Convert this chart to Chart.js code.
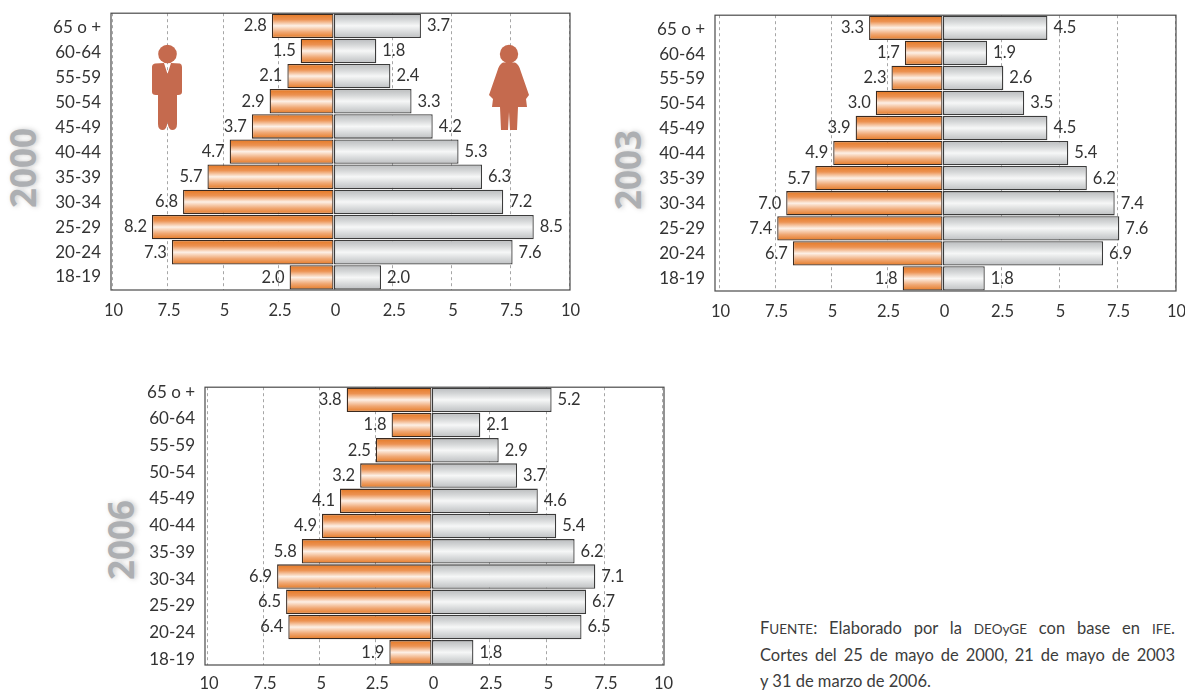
<!DOCTYPE html>
<html lang="es"><head><meta charset="utf-8">
<script src="https://cdn.jsdelivr.net/npm/chart.js@4"></script>
<style>
html,body{margin:0;padding:0;background:#fff;width:1185px;height:691px;overflow:hidden}
canvas{position:absolute}
.year{position:absolute;font:bold 35px "Open Sans",sans-serif;color:#adafb2;transform:translate(-50%,-50%) rotate(-90deg);text-shadow:0 2px 5px rgba(120,120,120,.4);line-height:1}
svg{position:absolute;left:0;top:0}
#note{position:absolute;left:760px;top:615px;width:415px;font:16.5px/26px Lato,sans-serif;color:#3c3c3c}
#note div{text-align:justify;text-align-last:justify;white-space:nowrap}
#note div:last-child{text-align-last:left}
#note small{font-size:13.5px}
</style></head><body>
<svg width="1185" height="691" style="z-index:5">
<g fill="#c56a4e">
<circle cx="167.5" cy="54" r="9.3"/>
<path d="M155 63.5 L164 63 L167.5 74 L171 63 L180 63.5 Q182 64 182 67 L182 92 Q182 95 178 95 L177 95 L177 124 Q177 130 172 130 Q168.5 130 167.5 122 Q166.5 130 163 130 Q158 130 158 124 L158 95 L156 95 Q152 95 152 92 L152 67 Q152 64 155 63.5Z"/>
<circle cx="509" cy="54" r="9.2"/>
<path d="M503 62.5 L515 62.5 Q519 64 521 72 L529 95 L526 99 L527 107 L518 107 L517 130 L510 130 L509 112 L508 130 L501 130 L500 107 L492 107 L493 99 L489 95 L497 72 Q499 64 503 62.5Z"/>
</g></svg>
<div class="year" style="left:22px;top:168px">2000</div>
<div class="year" style="left:627px;top:170px">2003</div>
<div class="year" style="left:120px;top:540px">2006</div>
<div id="note">
<div>F<small>UENTE</small>: Elaborado por la <small>DEOyGE</small> con base en <small>IFE</small>.</div>
<div>Cortes del 25 de mayo de 2000, 21 de mayo de 2003</div>
<div>y 31 de marzo de 2006.</div>
</div>
<script>
const ageGroups = ["65 o +","60-64","55-59","50-54","45-49","40-44","35-39","30-34","25-29","20-24","18-19"];
const men2000   = [2.8,1.5,2.1,2.9,3.7,4.7,5.7,6.8,8.2,7.3,2.0];
const women2000 = [3.7,1.8,2.4,3.3,4.2,5.3,6.3,7.2,8.5,7.6,2.0];
const men2003   = [3.3,1.7,2.3,3.0,3.9,4.9,5.7,7.0,7.4,6.7,1.8];
const women2003 = [4.5,1.9,2.6,3.5,4.5,5.4,6.2,7.4,7.6,6.9,1.8];
const men2006   = [3.8,1.8,2.5,3.2,4.1,4.9,5.8,6.9,6.5,6.4,1.9];
const women2006 = [5.2,2.1,2.9,3.7,4.6,5.4,6.2,7.1,6.7,6.5,1.8];
const leftTicks  = [-10,-7.5,-5,-2.5,0];
const rightTicks = [2.5,5,7.5,10];

const FONT = 'Lato, sans-serif';
const TEXT = '#333333';
const FSIZE = 16.5;

function gradient(ctx, stops){
  const c = ctx.chart, y = c.scales.y;
  if (ctx.type !== 'data' || !y) return stops[0];
  const py = y.getPixelForValue(ctx.dataIndex), h = 12.5;
  if (!Number.isFinite(py)) return stops[0];
  const g = c.ctx.createLinearGradient(0, py - h, 0, py + h);
  stops.forEach((s, i) => g.addColorStop(i / (stops.length - 1), s));
  return g;
}
const orangeStops = ['#e4761f','#ec9252','#fdf0e6','#f0a874','#e4761f'];
const greyStops   = ['#b8babc','#d4d6d7','#f6f7f7','#d8dadb','#bcbec0'];

const axisBoxPlugin = { id:'axisBox', afterLayout(chart){
  ['xL','xR'].forEach(id => { const s = chart.scales[id]; s.bottom = s.top + 30; });
}};
const framePlugin = { id:'frame', afterDatasetsDraw(chart){
  const a = chart.chartArea, c = chart.ctx;
  c.save(); c.strokeStyle = '#4a4a4a'; c.lineWidth = 1.2;
  c.strokeRect(a.left, a.top, a.right - a.left, a.bottom - a.top); c.restore();
}};
const labelPlugin = { id:'barLabels', afterDatasetsDraw(chart){
  const c = chart.ctx;
  c.save(); c.font = FSIZE + 'px ' + FONT; c.fillStyle = TEXT; c.textBaseline = 'middle';
  chart.data.datasets.forEach((ds, d) => {
    const neg = d === 0;
    c.textAlign = neg ? 'right' : 'left';
    chart.getDatasetMeta(d).data.forEach((bar, i) => {
      c.fillText(Math.abs(ds.data[i]).toFixed(1), bar.x + (neg ? -5 : 6), bar.y);
    });
  });
  c.restore();
}};

function pyramid(p, men, women){
  const boxLeft = p.left - 110, boxTop = p.top - 20;
  const cv = document.createElement('canvas');
  const W = p.right - p.left + 110 + 20, H = p.bottom - p.top + 20 + 30;
  cv.width = W; cv.height = H;
  cv.style.left = boxLeft + 'px'; cv.style.top = boxTop + 'px';
  document.body.appendChild(cv);
  const xAxis = (unit, ticks) => ({
    type:'linear', position:'bottom',
    min: -(p.zero - p.left) / unit, max: (p.right - p.zero) / unit,
    afterBuildTicks: s => { s.ticks = ticks.map(value => ({value})); },
    afterFit: s => { s.height = 0; },
    border:{display:false, dash:[3,3]},
    grid:{color:'#a6a6a6', drawTicks:false, lineWidth:1},
    ticks:{autoSkip:false, maxRotation:0, padding:p.tickPad, labelOffset:1.5, color:TEXT,
      font:{family:FONT,size:FSIZE}, callback:v => String(Math.abs(v))}
  });
  new Chart(cv, {
    type:'bar',
    data:{ labels:ageGroups, datasets:[
      {label:'Hombres', data:men.map(v => -v), xAxisID:'xL', yAxisID:'y', grouped:false,
       backgroundColor:c => gradient(c, orangeStops), borderColor:'#3a2a20', borderWidth:1.3, borderSkipped:false,
       barPercentage:0.97, categoryPercentage:1},
      {label:'Mujeres', data:women, xAxisID:'xR', yAxisID:'y', grouped:false,
       backgroundColor:c => gradient(c, greyStops), borderColor:'#3c3c3c', borderWidth:1.3, borderSkipped:false,
       barPercentage:0.97, categoryPercentage:1}
    ]},
    options:{
      indexAxis:'y', responsive:false, animation:false,
      layout:{padding:{left:0, top:20, right:20, bottom:30}},
      plugins:{legend:{display:false}, tooltip:{enabled:false}},
      scales:{
        y:{type:'category', display:false, offset:true},
        yT:{type:'linear', position:'left', reverse:true, offset:false, min:p.yMin, max:p.yMax,
          afterBuildTicks: s => { s.ticks = ageGroups.map((_, i) => ({value:i})); },
          afterFit: s => { s.width = 110; },
          border:{display:false}, grid:{display:false, drawTicks:false, offset:false},
          ticks:{autoSkip:false, padding:p.catPad, color:TEXT, font:{family:FONT,size:17},
            callback:v => ageGroups[v]}},
        xL:xAxis(p.unitL, leftTicks),
        xR:xAxis(p.unitR, rightTicks)
      }
    },
    plugins:[axisBoxPlugin, framePlugin, labelPlugin]
  });
}
pyramid({left:111,right:570,top:13,bottom:290,zero:334,unitL:22.2,unitR:23.5,yMin:-0.56,yMax:10.52,tickPad:11,catPad:10}, men2000, women2000);
pyramid({left:715,right:1176,top:15,bottom:291,zero:943,unitL:22.4,unitR:23.2,yMin:-0.56,yMax:10.52,tickPad:11,catPad:10}, men2003, women2003);
pyramid({left:205,right:664,top:387,bottom:665,zero:432,unitL:22.45,unitR:23,yMin:-0.19,yMax:10.22,tickPad:9,catPad:10}, men2006, women2006);
</script>
</body></html>
